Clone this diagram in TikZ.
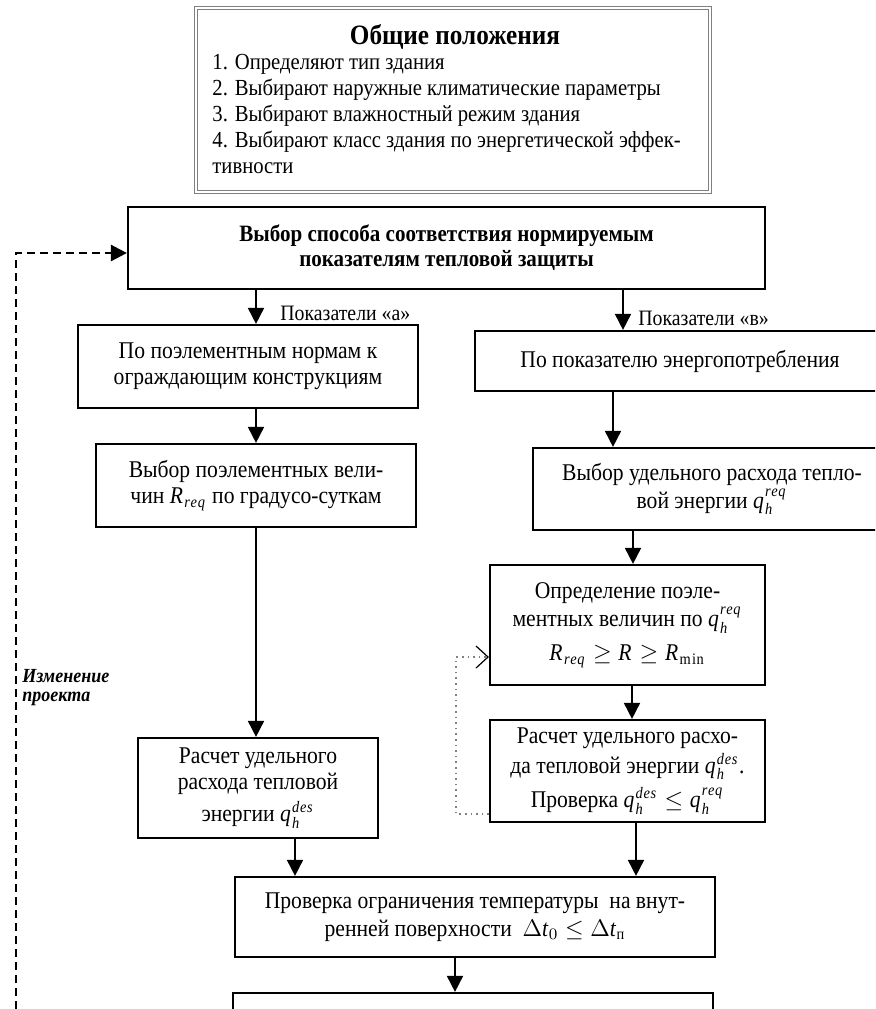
\documentclass[tikz,border=0pt]{standalone}
\usepackage{amsmath}
\usepackage{fontspec}
\setmainfont{Liberation Serif}[FakeStretch=0.9]
\usetikzlibrary{arrows.meta,positioning,calc}

\newcommand{\qh}[1]{\ensuremath{\mathit{q}_{\mathit{h}}^{\mathit{#1}}}}
\newcommand{\Rreq}{\ensuremath{\mathit{R}_{\mathit{req}}}}

\tikzset{
  box/.style={draw, line width=1.1pt, align=center, inner sep=2pt,
    font=\fontsize{12}{13}\selectfont},
  genbox/.style={draw=gray, line width=0.4pt, double=white, double distance=0.8pt},
  arr/.style={line width=0.9pt, -{Triangle[length=8pt,width=8pt]}},
  fbline/.style={line width=1.3pt, dash pattern=on 4pt off 2.5pt,
    -{Triangle[length=8pt,width=8pt]}},
  dotl/.style={gray, dotted, line width=0.8pt,
    -{Straight Barb[length=6pt,width=11pt,line width=0.6pt,color=black]}},
  lbl/.style={font=\fontsize{11}{12}\selectfont, inner sep=0pt}
}

\begin{document}
\begin{tikzpicture}[x=0.5pt,y=-0.5pt]
\clip (0,0) rectangle (875,1009);

% general provisions
\node[genbox, minimum width=257pt, minimum height=92pt] (gen) at (453,100) {};
\node[font=\bfseries\fontsize{14}{16}\selectfont] (gtitle) at (455,37) {Общие положения};
\node[anchor=north west, align=left, inner sep=0pt,
  font=\fontsize{11.5}{13}\selectfont] (glist) at (212,54)
  {1. Определяют тип здания\\
   2. Выбирают наружные климатические параметры\\
   3. Выбирают влажностный режим здания\\
   4. Выбирают класс здания по энергетической эффек-\\
   тивности};

% choice of method
\node[box, font=\bfseries\fontsize{11.7}{12.5}\selectfont,
  minimum width=318.5pt, minimum height=41pt] (choice) at (446.5,248)
  {Выбор способа соответствия нормируемым\\ показателям тепловой защиты};

% branch a
\node[box, minimum width=170pt, minimum height=41.5pt] (a1) at (248,366.5)
  {По поэлементным нормам к\\ ограждающим конструкциям};
\node[box, minimum width=160pt, minimum height=41.5pt] (a2) at (256,485.5)
  {Выбор поэлементных вели-\\ чин \Rreq\ по градусо-суткам};
\node[box, minimum width=120pt, minimum height=50pt] (a3) at (258,788)
  {Расчет удельного\\ расхода тепловой\\[3pt] энергии \qh{des}};

% branch b
\node[box, minimum width=205pt, minimum height=30pt] (b1) at (680,361)
  {По показателю энергопотребления};
\node[box, minimum width=179pt, minimum height=41pt] (b2) at (712,489)
  {Выбор удельного расхода тепло-\\[1pt] вой энергии \qh{req}};
\node[box, minimum width=137.5pt, minimum height=60pt] (b3) at (627.5,625)
  {Определение поэле-\\[1pt] ментных величин по \qh{req}\\[4pt]
   $\Rreq \geq \mathit{R} \geq \mathit{R}_{\mathrm{min}}$};
\node[box, minimum width=137.5pt, minimum height=51pt] (b4) at (627.5,771)
  {Расчет удельного расхо-\\[2pt] да тепловой энергии \qh{des}.\\[3pt]
   Проверка $\qh{des} \leq \qh{req}$};

% common part
\node[box, minimum width=240pt, minimum height=40pt] (check) at (475,917)
  {Проверка ограничения температуры \ на внут-\\[1pt]
   ренней поверхности \ $\Delta\mathit{t}_0 \leq \Delta\mathit{t}_{\text{п}}$};
\node[box, minimum width=240pt, minimum height=40pt] (final) at (473,1033) {};

% labels
\node[lbl, anchor=west] (la) at (280,313) {Показатели «а»};
\node[lbl, anchor=west] (lb) at (638,318) {Показатели «в»};
\node[anchor=north west, align=left, inner sep=0pt,
  font=\bfseries\itshape\fontsize{10}{9.5}\selectfont] (lchg) at (22,669)
  {Изменение\\ проекта};

% arrows
\foreach \s/\t/\dx in {choice/a1/-190.5, choice/b1/176.5, a1/a2/8, a2/a3/0,
    a3/check/37, b1/b2/-67, b2/b3/-79, b3/b4/4.5, b4/check/8.5, check/final/-20}
  \draw[arr] ($(\s.south)+(\dx,0)$) coordinate (k) -- (k |- \t.north);

% loops
\coordinate (fb) at (16,1009);
\draw[fbline] (fb) |- ($(choice.west)+(0,5)$);
\draw[dotl] ($(b4.west)+(0,43)$) -- ++(-33,0) |- ($(b3.west)+(0,32)$);
\end{tikzpicture}
\end{document}
